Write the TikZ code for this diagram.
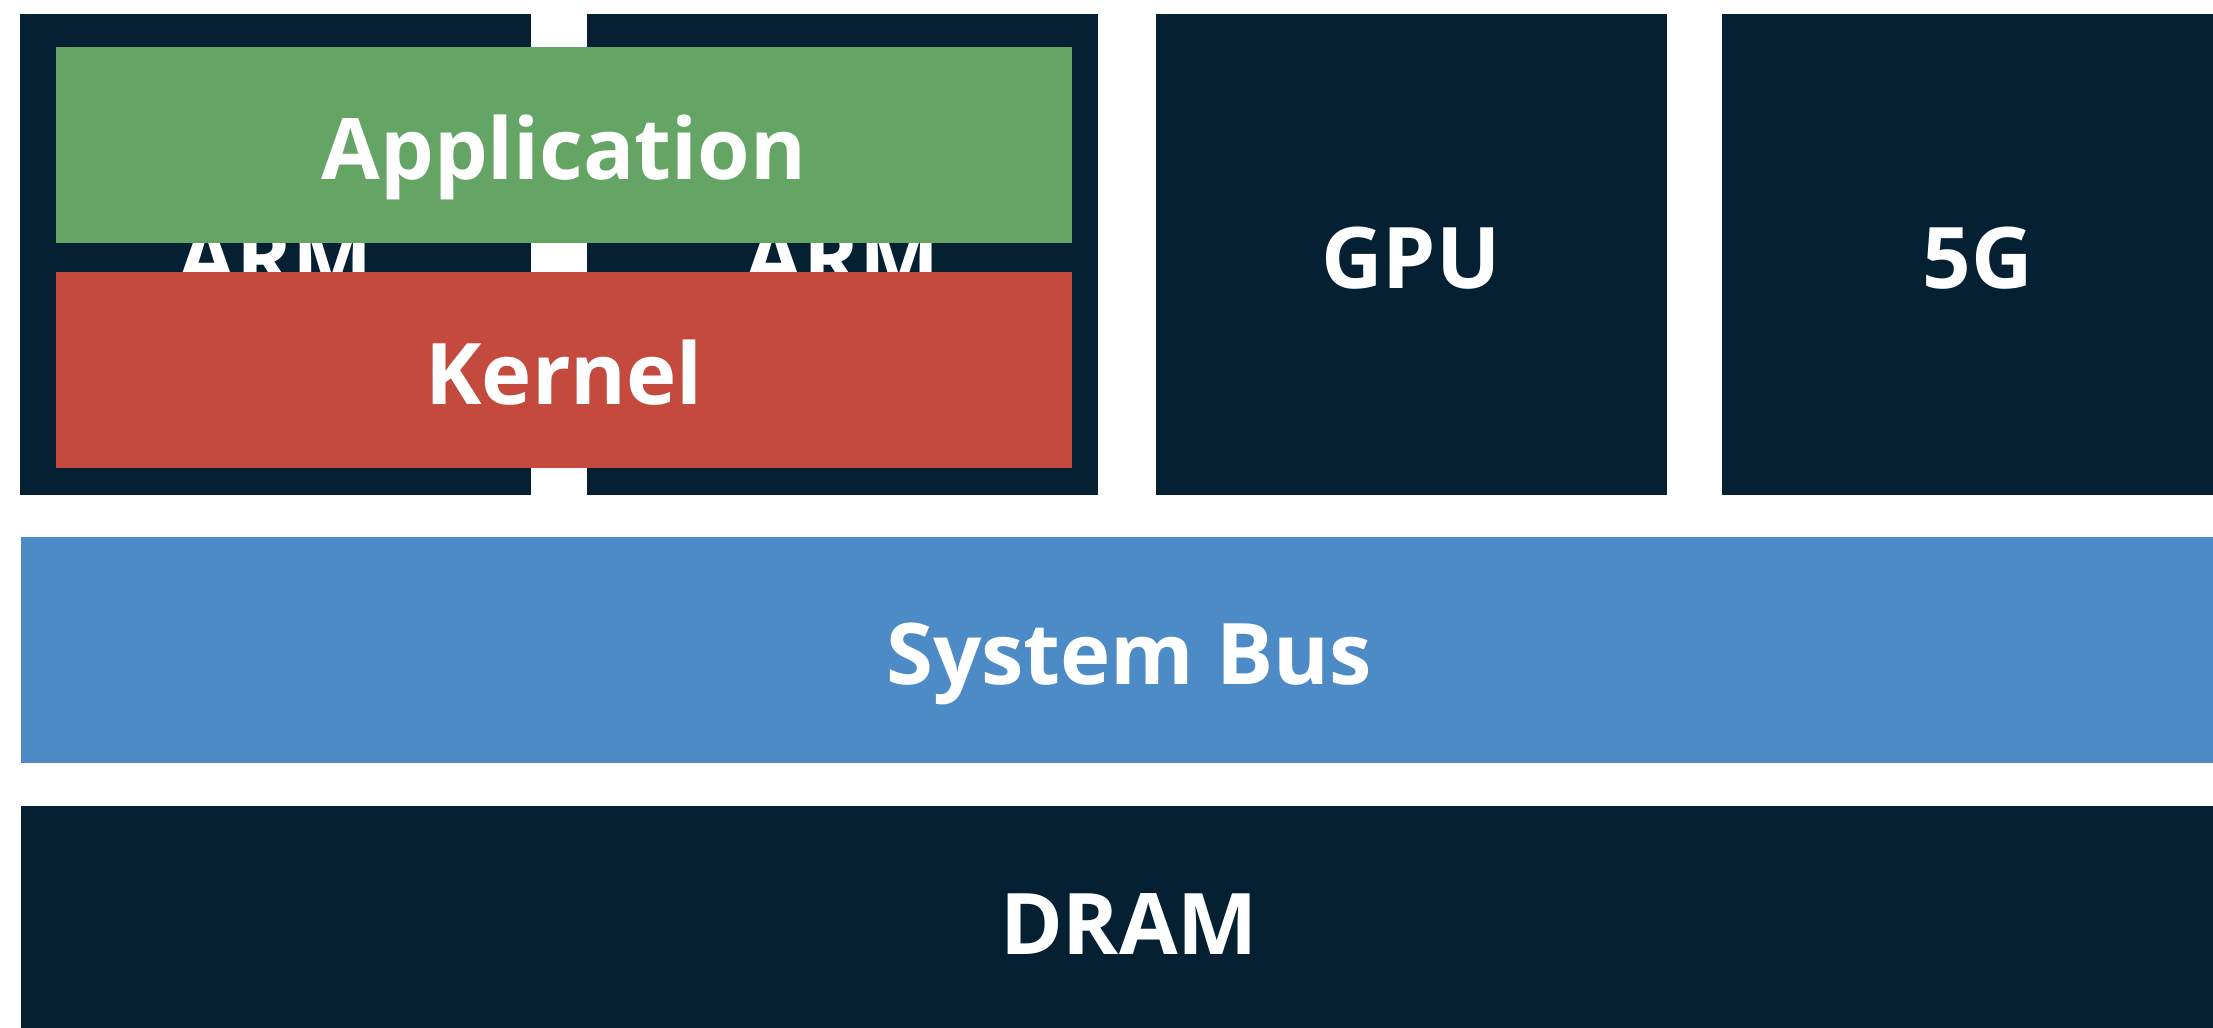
\documentclass[tikz,border=0pt]{standalone}
\usepackage{fontspec}
\setmainfont{Open Sans}
\definecolor{navy}{HTML}{062033}
\definecolor{appgreen}{HTML}{64A464}
\definecolor{kernred}{HTML}{C44A3E}
\definecolor{busblue}{HTML}{4D8BC7}

\begin{document}
\begin{tikzpicture}[
  blk/.style={rectangle, inner sep=0pt, text=white,
    font=\fontsize{24.2}{30}\selectfont\bfseries,
    text height=0.69cm, text depth=0pt},
  unit/.style={blk, fill=navy, minimum width=5.11cm, minimum height=4.81cm},
  layer/.style={blk, minimum width=10.16cm, minimum height=1.96cm},
  wide/.style={blk, minimum width=22.16cm}]
  \useasboundingbox (0,0) rectangle (22.13,10.28);
  % bloques del soc
  \node[unit] (arma) at (2.755,7.735) {ARM};
  \node[unit] (armb) at (8.425,7.735) {ARM};
  \node[unit] (gpu) at (14.11,7.735) {GPU};
  \node[unit] (fiveg) at (19.775,7.735) {5G};
  % capas de software
  \node[layer, fill=appgreen] (app) at (5.64,8.83) {Application};
  \node[layer, fill=kernred] (kern) at (5.64,6.58) {Kernel};
  % bus y memoria
  \node[wide, fill=busblue, minimum height=2.26cm] (bus) at (11.29,3.78) {System Bus};
  \node[wide, fill=navy, minimum height=2.28cm] (dram) at (11.29,1.08) {DRAM};
\end{tikzpicture}
\end{document}
